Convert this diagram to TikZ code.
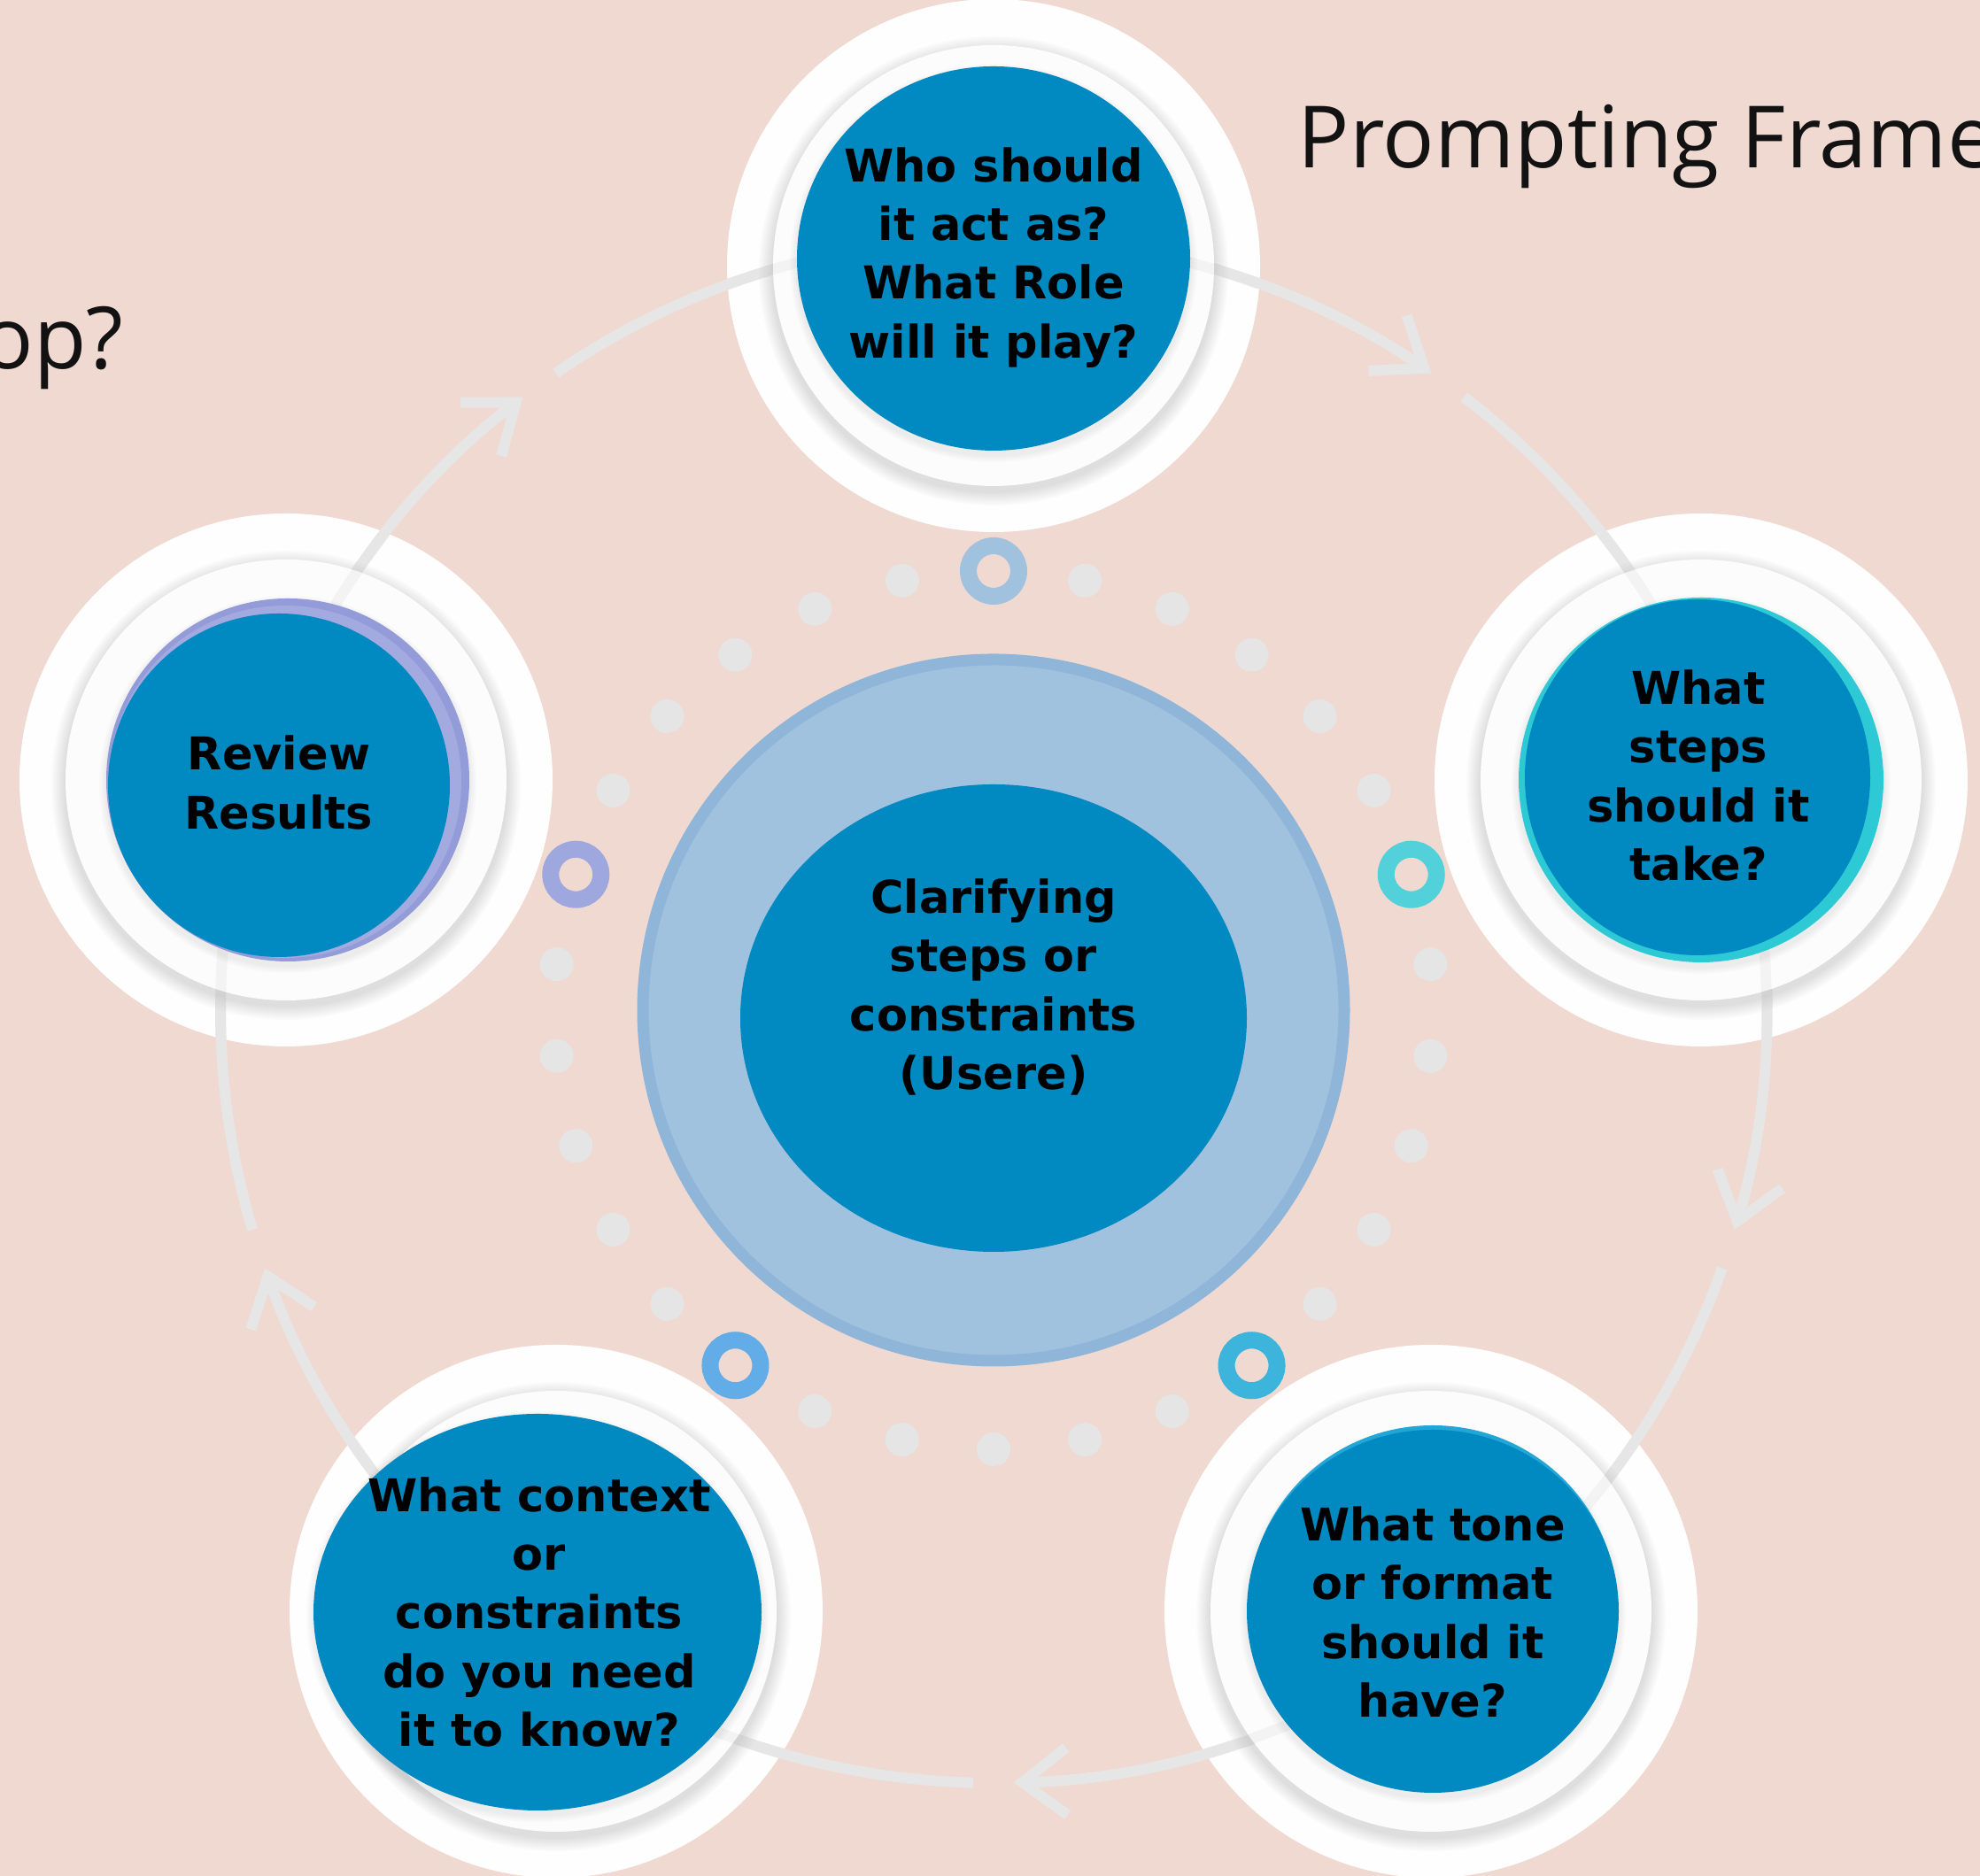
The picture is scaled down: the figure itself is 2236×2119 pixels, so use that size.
\documentclass[tikz,border=0pt]{standalone}
\usepackage{fontspec}
\usetikzlibrary{arrows.meta,calc}
\newfontfamily\headfont{Open Sans}
\newfontfamily\boxfont{DejaVu Sans}
\definecolor{bgpink}{HTML}{F0D9D1}
\definecolor{mainblue}{HTML}{0189C2}
\definecolor{paleblue}{HTML}{A1C2DE}
\definecolor{paleedge}{HTML}{8FB5D8}
\definecolor{linegray}{HTML}{E6E6E6}
\definecolor{dotgray}{HTML}{E5E5E5}
\definecolor{ringA}{HTML}{A0C2DF}
\definecolor{ringB}{HTML}{52D1DA}
\definecolor{ringC}{HTML}{3CB4DC}
\definecolor{ringD}{HTML}{62ACE8}
\definecolor{ringE}{HTML}{9FA7DF}
\definecolor{cyanedge}{HTML}{2DCAD6}
\definecolor{purpleedge}{HTML}{939CD9}
\definecolor{purplelight}{HTML}{A3AADF}
\definecolor{toplight}{HTML}{22A6D8}
\definecolor{diskwhite}{HTML}{FEFEFE}
\definecolor{ringwhite}{HTML}{FCFCFC}
\begin{document}
\begin{tikzpicture}[x=0.01cm,y=0.01cm,
  arcline/.style={draw=linegray, line width=0.12cm},
  arrowline/.style={arcline, -{Straight Barb[length=0.5cm,width=0.76cm]}},
  qtext/.style={align=center, font=\boxfont\bfseries\fontsize{14.5}{18.8}\selectfont, text=black, inner sep=0pt},
  titletext/.style={font=\headfont\fontsize{27.6}{33}\selectfont, text=black!93, inner sep=0pt},
  dotfill/.style={fill=dotgray},
  smallring/.style={line width=0.19cm},
  softshade/.style={fill=black, opacity=0.016},
]
\useasboundingbox (0,0) rectangle (2236,2119);
\clip (0,0) rectangle (2236,2119);
\fill[bgpink] (0,0) rectangle (2236,2119);

% titles
\node[titletext, anchor=base west] (ttl) at (1465,1929) {Prompting Frame};
\node[titletext, anchor=base east] (ttl2) at (140,1702) {op?};

% centres
\coordinate (C) at (1122,978);
\coordinate (P1) at (1122,1819);
\coordinate (P2) at (1921,1238);
\coordinate (P3) at (1616,299);
\coordinate (P4) at (628,299);
\coordinate (P5) at (323,1238);

% central circle
\draw[draw=paleedge, fill=paleblue, line width=0.13cm] (C) circle (396);
\fill[mainblue] (1122,969) ellipse [x radius=286, y radius=264];
\node[qtext] (hub) at (1122,1004) {Clarifying\\steps or\\constraints\\(Usere)};

% outer white disks
\foreach \p in {P1,P2,P3,P4,P5} {
  \fill[diskwhite] (\p) circle (301);
}

% connector arcs
\foreach \a [count=\i] in {90,18,-54,-126,162} {
  \pgfmathsetmacro{\tipa}{\a-34.5}
  \pgfmathsetmacro{\resa}{\a-37.5}
  \pgfmathsetmacro{\enda}{\a-72}
  \coordinate (s\i) at ($(C)+(\a:873)$);
  \coordinate (r\i) at ($(C)+(\resa:873)$);
  \draw[arrowline] (s\i) arc[start angle=\a, end angle=\tipa, radius=873];
  \draw[arcline] (r\i) arc[start angle=\resa, end angle=\enda, radius=873];
}

% inner rings with soft shadow
\foreach \p in {P1,P2,P3,P4,P5} {
  \foreach \j in {1,...,8} {
    \fill[softshade] ($(\p)+(0,-6)$) circle ({249+2*\j});
  }
  \fill[ringwhite] (\p) circle (249);
}

% arcs faintly seen through the inner rings
\foreach \a [count=\i] in {90,18,-54,-126,162} {
  \pgfmathsetmacro{\resa}{\a-37.5}
  \pgfmathsetmacro{\enda}{\a-72}
  \draw[arcline, draw opacity=0.4] (s\i) arc[start angle=\a, end angle=\a-20, radius=873];
  \draw[arcline, draw opacity=0.4] ($(C)+(\enda+20:873)$) arc[start angle=\enda+20, end angle=\enda, radius=873];
}

% top node
\foreach \j in {1,...,4} {\fill[softshade] (1122,1822) ellipse [x radius={222+2*\j}, y radius={217+2*\j}];}
\fill[mainblue] (1122,1827) ellipse [x radius=222, y radius=217];
\node[qtext] (q1) at (1122,1828) {Who should\\it act as?\\What Role\\will it play?};

% right node
\foreach \j in {1,...,4} {\fill[softshade] (1921,1233) circle ({206+2*\j});}
\fill[cyanedge] (P2) circle (206);
\fill[mainblue] (1917,1241) ellipse [x radius=195, y radius=201];
\node[qtext] (q2) at (1918,1243) {What\\steps\\should it\\take?};

% bottom-right node
\foreach \j in {1,...,4} {\fill[softshade] (1618,294) ellipse [x radius={210+2*\j}, y radius={205+2*\j}];}
\fill[toplight] (1618,304) ellipse [x radius=208, y radius=205];
\fill[mainblue] (1618,299) ellipse [x radius=210, y radius=205];
\node[qtext] (q3) at (1618,298) {What tone\\or format\\should it\\have?};

% bottom-left node
\foreach \j in {1,...,4} {\fill[softshade] (607,293) ellipse [x radius={253+2*\j}, y radius={224+2*\j}];}
\fill[mainblue] (607,298) ellipse [x radius=253, y radius=224];
\node[qtext] (q4) at (609,298) {What context\\or\\constraints\\do you need\\it to know?};

% left node
\foreach \j in {1,...,4} {\fill[softshade] (325,1233) circle ({205+2*\j});}
\fill[purpleedge] (325,1238) circle (205);
\fill[purplelight] (322,1236) circle (199);
\fill[mainblue] (315,1232) ellipse [x radius=193, y radius=194];
\node[qtext] (q5) at (315,1235) {Review\\Results};

% dotted ring
\foreach \k in {1,2,3,4,5,7,8,9,10,11,13,14,15,16,17,19,20,21,22,23,25,26,27,28,29} {
  \fill[dotfill] ($(C)+({90-12*\k}:496)$) circle (19);
}
\draw[smallring, draw=ringA] ($(C)+(90:496)$) circle (28.5);
\draw[smallring, draw=ringB] ($(C)+(18:496)$) circle (28.5);
\draw[smallring, draw=ringC] ($(C)+(-54:496)$) circle (28.5);
\draw[smallring, draw=ringD] ($(C)+(-126:496)$) circle (28.5);
\draw[smallring, draw=ringE] ($(C)+(162:496)$) circle (28.5);
\end{tikzpicture}
\end{document}
